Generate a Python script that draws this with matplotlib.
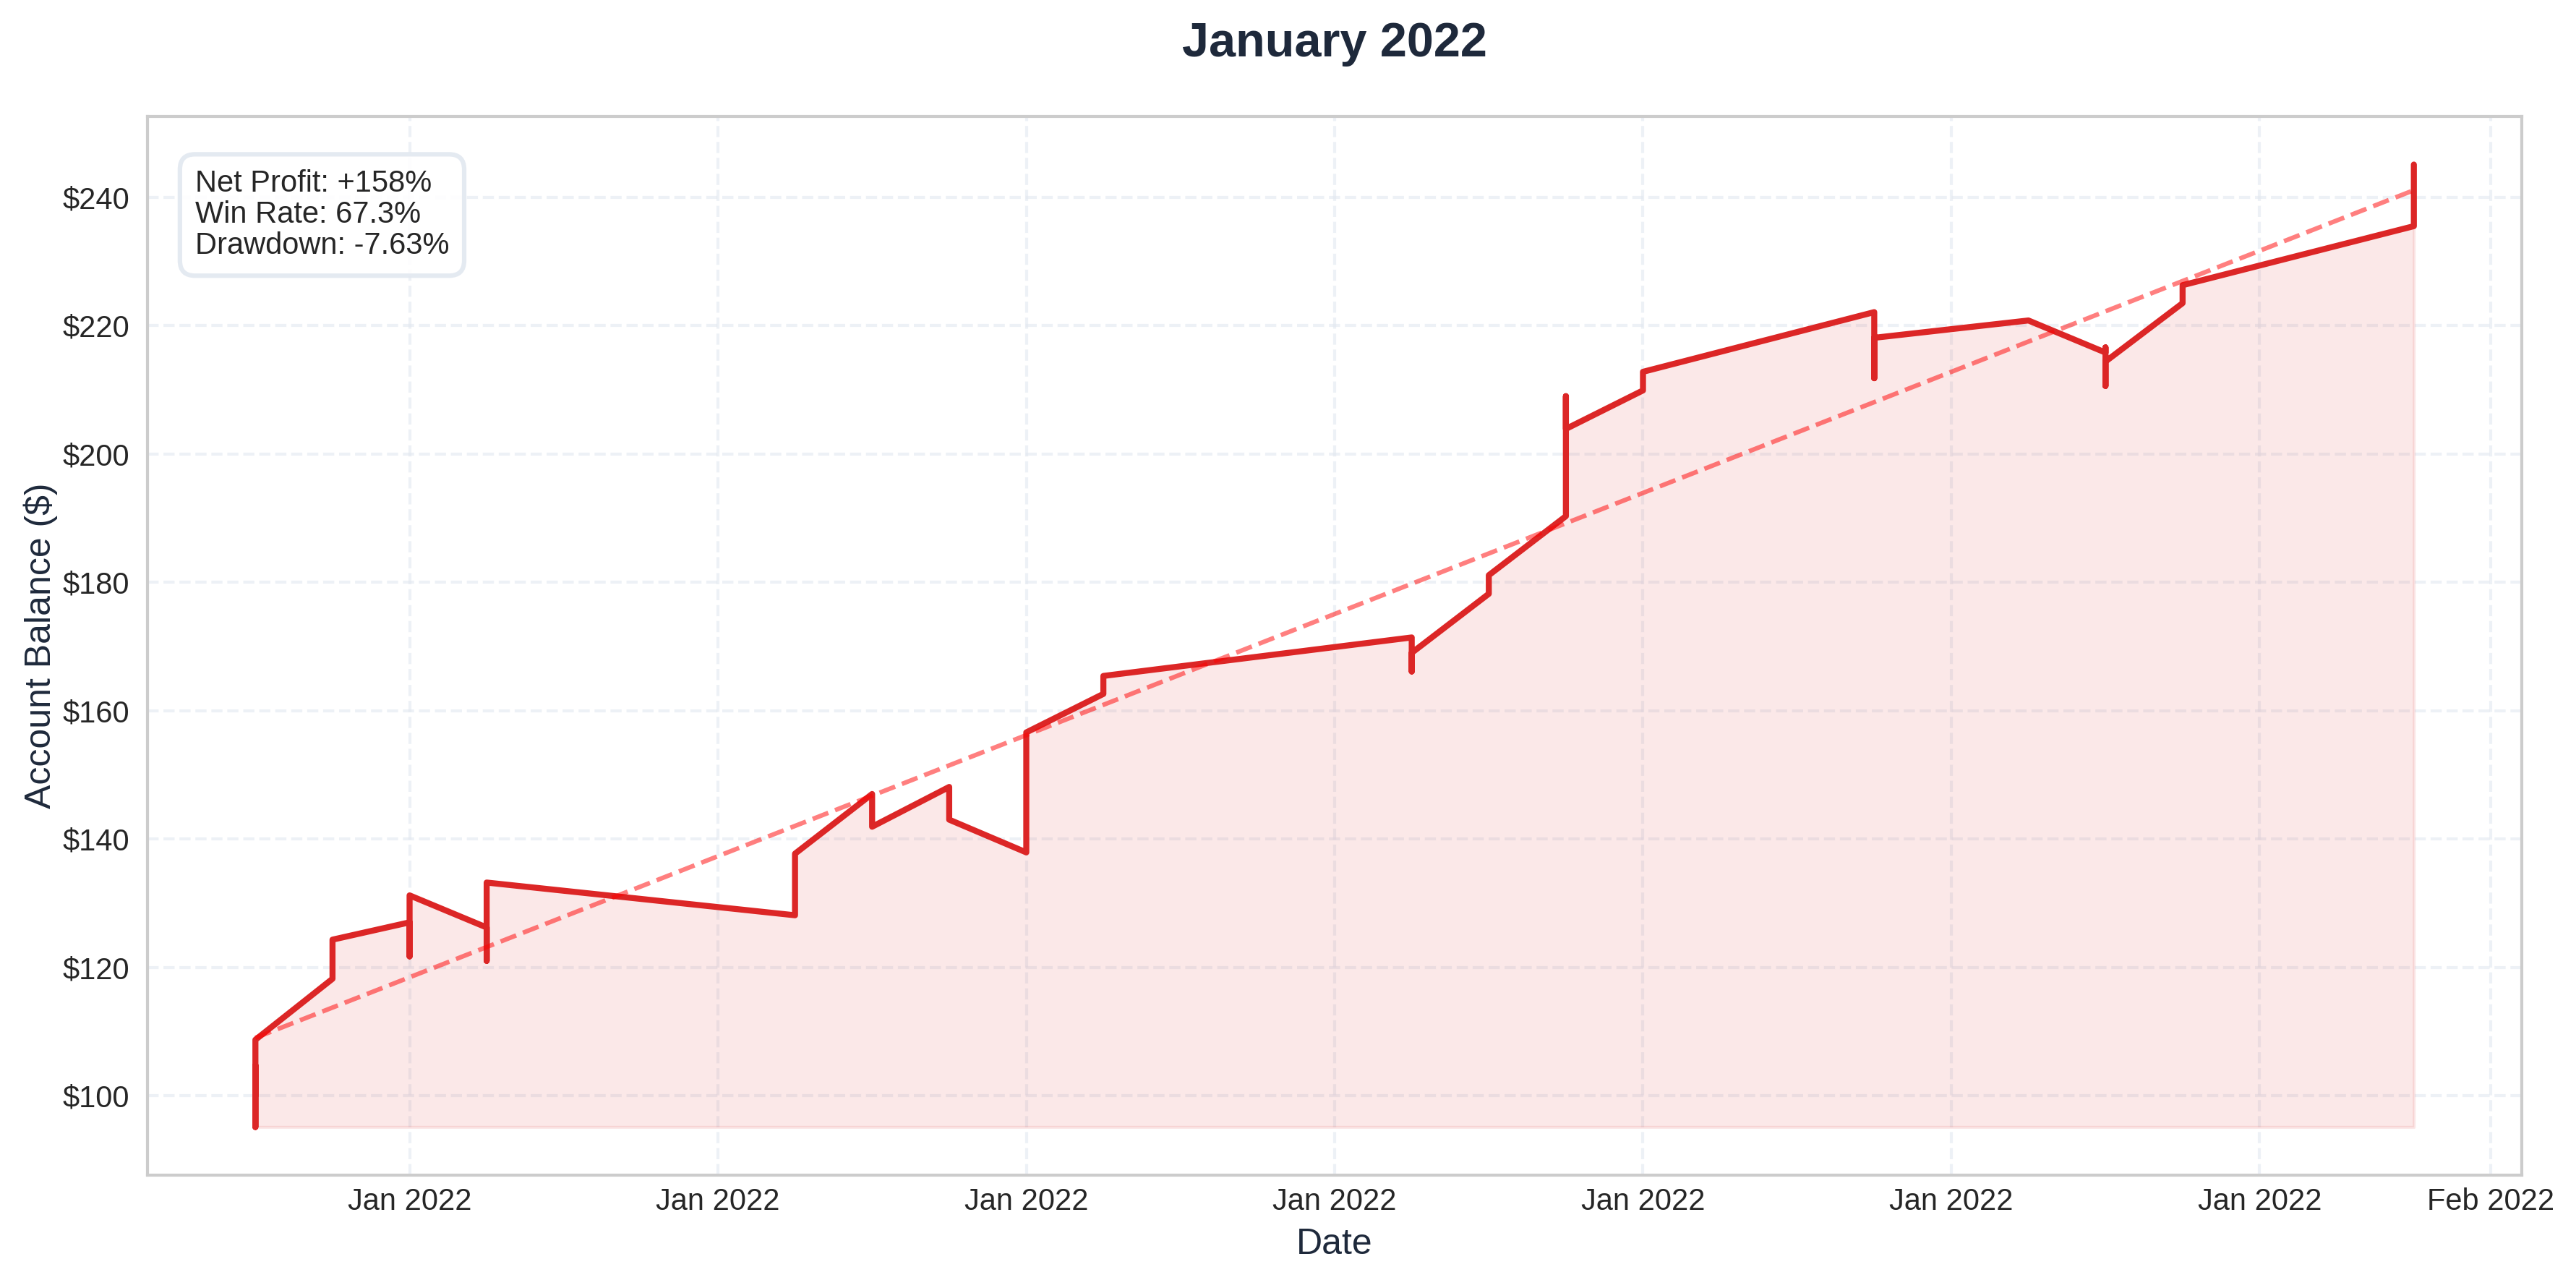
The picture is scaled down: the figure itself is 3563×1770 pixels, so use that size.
import matplotlib
matplotlib.use("Agg")
import matplotlib.pyplot as plt
import matplotlib.dates as mdates
import matplotlib.ticker as mticker
import numpy as np
import pandas as pd

# ---------------- data ----------------
trade_dates = (
    ["2022-01-03"] * 4 +
    ["2022-01-04"] * 2 +
    ["2022-01-05"] * 3 +
    ["2022-01-06"] * 3 +
    ["2022-01-10"] * 2 +
    ["2022-01-11"] * 2 +
    ["2022-01-12"] * 2 +
    ["2022-01-13"] * 2 +
    ["2022-01-14"] * 2 +
    ["2022-01-18"] * 3 +
    ["2022-01-19"] * 2 +
    ["2022-01-20"] * 3 +
    ["2022-01-21"] * 2 +
    ["2022-01-24"] * 3 +
    ["2022-01-26"] * 1 +
    ["2022-01-27"] * 4 +
    ["2022-01-28"] * 2 +
    ["2022-01-31"] * 2
)
balance = [
    100.0, 104.7, 95.1, 108.7,        # Jan 3
    118.2, 124.3,                     # Jan 4
    127.0, 121.7, 131.2,              # Jan 5
    126.2, 121.0, 133.2,              # Jan 6
    128.1, 137.7,                     # Jan 10
    147.0, 141.9,                     # Jan 11
    148.1, 143.0,                     # Jan 12
    137.9, 156.6,                     # Jan 13
    162.6, 165.4,                     # Jan 14
    171.4, 166.1, 169.0,              # Jan 18
    178.2, 181.1,                     # Jan 19
    190.3, 209.0, 203.9,              # Jan 20
    209.9, 212.8,                     # Jan 21
    222.1, 211.8, 218.1,              # Jan 24
    220.8,                            # Jan 26
    215.8, 216.6, 210.6, 214.4,       # Jan 27
    223.5, 226.3,                     # Jan 28
    235.5, 245.1,                     # Jan 31
]
trend_dates = ["2022-01-03", "2022-01-31"]
trend_values = [109.0, 241.1]

stats_lines = ["Net Profit: +158%", "Win Rate: 67.3%", "Drawdown: -7.63%"]
title_text = "January 2022"

# ---------------- style ----------------
plt.rcParams["font.family"] = ["Liberation Sans", "DejaVu Sans"]

LINE_COLOR = "#dc2626"
NAVY = "#1e293b"

x = pd.to_datetime(trade_dates)
y = np.array(balance)
tx = pd.to_datetime(trend_dates)

fig = plt.figure(figsize=(3563 / 300, 1770 / 300), dpi=300)
ax = fig.add_axes([204 / 3563, 1 - 1625 / 1770, (3488 - 204) / 3563, (1625 - 161) / 1770])

ax.fill_between(x, y, y.min(), color=LINE_COLOR, alpha=0.1, linewidth=1)
ax.plot(x, y, color=LINE_COLOR, linewidth=2.0, solid_capstyle="round",
        solid_joinstyle="round")
ax.plot(tx, trend_values, color="red", alpha=0.5, linestyle="--", linewidth=1.5)

ax.xaxis.set_major_locator(mdates.DayLocator(bymonthday=[1, 5, 9, 13, 17, 21, 25, 29]))
ax.xaxis.set_major_formatter(mdates.DateFormatter("%b %Y"))
ax.yaxis.set_major_formatter(mticker.FuncFormatter(lambda v, p: f"${v:.0f}"))

ax.grid(True, linestyle="--", color="#e2e8f0", linewidth=1.0, alpha=0.6)
ax.set_axisbelow(True)
for s in ax.spines.values():
    s.set_color("#cccccc")
    s.set_linewidth(1.0)

ax.tick_params(axis="x", labelsize=10, labelcolor="#262626", length=0, pad=4)
ax.tick_params(axis="y", labelsize=10, labelcolor="#262626", length=0, pad=6)

ax.set_xlabel("Date", fontsize=12, color=NAVY, labelpad=3.8)
ax.set_ylabel("Account Balance ($)", fontsize=12, color=NAVY, labelpad=1.5)
ax.set_title(title_text, fontsize=16, fontweight="bold", color=NAVY, pad=20)

ax.text(0.02, 0.95, "\n".join(stats_lines), transform=ax.transAxes,
        fontsize=10, va="top", ha="left", color="#262626", linespacing=1.1,
        bbox=dict(boxstyle="round,pad=0.5", facecolor="white",
                  edgecolor="#e2e8f0", linewidth=1.5, alpha=0.9))

fig.savefig("out.png", dpi=300, facecolor="white")
